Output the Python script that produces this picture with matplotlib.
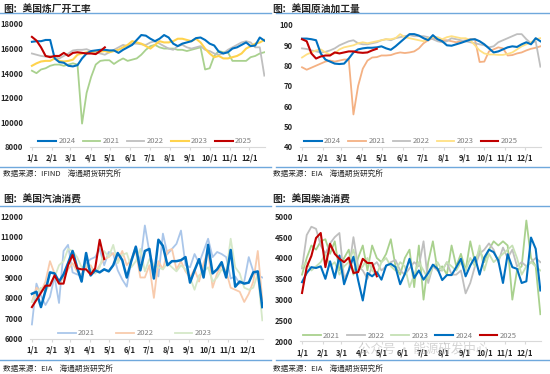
import matplotlib
matplotlib.use('Agg')
import matplotlib.pyplot as plt
import numpy as np

plt.rcParams['font.family'] = ['Noto Sans CJK SC', 'DejaVu Sans']

# ---------------- datos (semanales) ----------------
meses_dias = [0, 31, 59, 90, 120, 151, 181, 212, 243, 273, 304, 334]
meses_etq = ['1/1', '2/1', '3/1', '4/1', '5/1', '6/1', '7/1', '8/1', '9/1', '10/1', '11/1', '12/1']

# 美国炼厂开工率
ref_2024 = [16550, 16600, 16600, 16700, 16700, 15200, 14900, 14850, 14600, 14550,
            14650, 15200, 15600, 15800, 15850, 15900, 15900, 15850, 15850, 15650,
            15900, 16100, 16300, 16700, 17100, 17050, 16800, 16600, 16800, 17100,
            16900, 16400, 16200, 16400, 16500, 16600, 16850, 16900, 16700, 16400,
            16250, 15750, 15600, 15700, 16000, 16100, 16300, 16500, 16200, 16250,
            16900, 16650]
ref_2021 = [14200, 14000, 14300, 14400, 14600, 14700, 14700, 14600, 14700, 14800,
            14700, 9900, 12400, 13700, 14700, 15000, 15050, 15050, 14750, 15000,
            15200, 15000, 15100, 15200, 15500, 15900, 16200, 16300, 16100, 16000,
            16000, 16000, 15900, 15900, 15800, 15900, 16000, 16100, 14300, 14400,
            15400, 15800, 15700, 15700, 15000, 15000, 15000, 15000, 15300, 15400,
            15600, 15700]
ref_2022 = [15600, 15500, 15400, 15350, 15400, 15300, 15200, 15400, 15600, 15850,
            15900, 15900, 15950, 15800, 15700, 15600, 15500, 15700, 15900, 16100,
            16300, 16200, 16400, 16400, 16350, 16300, 16500, 16600, 16400, 16200,
            16000, 15900, 16200, 16300, 16100, 16000, 16100, 16200, 15900, 15800,
            15600, 15500, 15600, 15900, 16100, 16300, 16500, 16600, 16500, 16100,
            16100, 13800]
ref_2023 = [14600, 14800, 14950, 15000, 15000, 15200, 15000, 14950, 15000, 15100,
            15500, 15600, 15700, 15700, 15800, 15750, 15800, 15700, 15800, 15900,
            16100, 16300, 16600, 16500, 16400, 16200, 16000, 16300, 16600, 16500,
            16500, 16600, 16800, 16800, 16700, 16600, 16800, 16500, 16000, 15600,
            15300, 15400, 15200, 15200, 15300, 15400, 15600, 16000, 16200, 16400,
            16500, 16700]
ref_2025 = [16950, 16650, 16100, 15400, 15300, 15400, 15400, 15650, 15400, 15650,
            15700, 15650, 15600, 15600, 15550, 15800, 16100]

# 美国原油加工量
cru_2024 = [93.3, 93.3, 93.0, 92.5, 86.0, 83.0, 82.0, 81.0, 80.8, 81.0,
            83.5, 86.5, 88.0, 88.5, 88.8, 88.8, 89.0, 89.5, 88.5, 87.8,
            89.5, 91.5, 93.5, 95.5, 95.5, 94.8, 93.5, 92.5, 95.0, 93.0,
            92.0, 90.0, 89.8, 90.5, 91.2, 92.0, 92.8, 93.0, 92.0, 90.5,
            88.5, 86.5, 87.0, 88.0, 89.0, 89.5, 89.2, 90.5, 91.5, 90.5,
            93.5, 92.0]
cru_2021 = [79.2, 78.0, 79.0, 80.0, 81.0, 82.0, 82.5, 82.0, 82.5, 83.0,
            83.0, 56.0, 70.0, 78.5, 82.5, 84.0, 84.2, 85.0, 85.0, 85.2,
            86.0, 86.5, 86.2, 86.5, 87.0, 88.5, 91.0, 92.5, 93.5, 93.0,
            92.5, 92.5, 92.0, 91.5, 92.0, 92.5, 93.0, 93.0, 81.8, 82.0,
            87.0, 88.0, 89.0, 88.5, 85.0, 85.2, 86.0, 86.5, 87.5, 88.3,
            88.8, 89.5]
cru_2022 = [88.5, 88.2, 87.5, 87.0, 86.5, 86.8, 87.5, 88.5, 90.0, 91.0,
            92.0, 92.5, 91.0, 90.5, 90.5, 91.0, 91.5, 92.5, 93.0, 92.5,
            93.5, 94.0, 94.5, 95.0, 94.5, 94.5, 94.5, 94.0, 93.0, 92.0,
            91.5, 92.0, 93.5, 93.0, 92.5, 92.0, 91.5, 91.0, 90.5, 90.0,
            89.0, 89.5, 91.5, 92.5, 93.5, 94.5, 95.5, 95.5, 93.0, 91.0,
            92.0, 79.5]
cru_2023 = [84.0, 85.5, 86.5, 87.5, 88.0, 86.5, 85.5, 86.0, 88.0, 89.0,
            89.5, 90.0, 91.0, 91.5, 91.0, 91.5, 92.0, 92.5, 93.0, 93.0,
            93.5, 95.5, 94.0, 93.5, 93.0, 92.5, 92.0, 93.5, 94.0, 94.0,
            93.0, 94.0, 94.5, 94.0, 93.5, 93.5, 92.5, 90.0, 87.5, 86.0,
            85.5, 85.5, 85.3, 85.3, 85.8, 86.5, 88.0, 89.5, 90.5, 91.5,
            93.0, 93.5]
cru_2025 = [93.0, 92.0, 86.0, 83.5, 84.5, 85.0, 85.0, 86.5, 86.0, 86.5,
            87.0, 87.0, 86.5, 86.3, 86.5, 87.5, 88.3]

# 美国汽油消费
gas_2021 = [6700, 8700, 8100, 7650, 8050, 9050, 7750, 10300, 10600, 9250,
            9150, 9100, 9700, 9900, 10000, 10400, 9600, 10250, 10150, 9350,
            8900, 8550, 9850, 10550, 9750, 11550, 10250, 9500, 9050, 11150,
            10150, 10400, 10650, 11300, 9600, 9500, 10150, 9700, 10300, 10900,
            10000, 10250, 10150, 10000, 8950, 9050, 8700, 8800, 10000, 9300,
            9100, 9000]
gas_2022 = [7800, 8500, 8300, 8800, 9800, 9200, 8700, 9000, 9400, 9700,
            9300, 9100, 9500, 9600, 9200, 9600, 9900, 10000, 10200, 9800,
            10300, 9600, 9900, 10300, 9000, 9000, 9600, 8000, 9800, 9400,
            10300, 10400, 9400, 9800, 9300, 9000, 9400, 8800, 9700, 10300,
            8500, 9200, 9600, 9300, 8500, 8400, 8300, 7800, 8200, 8800,
            10300, 7900]
gas_2023 = [7800, 8200, 8500, 8300, 8700, 9000, 9600, 9800, 10400, 10300,
            10000, 9500, 9600, 9400, 9200, 9500, 10300, 10000, 10600, 9700,
            10100, 10200, 9500, 9800, 10400, 9300, 9900, 9600, 9500, 9400,
            9700, 9500, 9300, 9600, 9400, 9000, 8400, 9100, 9300, 9500,
            8800, 9000, 9400, 9200, 10900, 9500, 9200, 8500, 8400, 8500,
            9200, 6900]
gas_2024 = [8200, 8300, 7550, 8350, 9250, 9200, 8800, 9150, 9700, 10300,
            9500, 8800, 10200, 9100, 9350, 9250, 9400, 9300, 9600, 10200,
            9850, 9000, 9800, 10500, 9350, 10300, 10400, 8950, 10850, 10550,
            9600, 9800, 9800, 9850, 10000, 8750, 9350, 9900, 9000, 10600,
            9200, 9400, 9750, 9000, 10350, 8550, 8800, 8700, 8750, 9250,
            9300, 7550]
gas_2025 = [7550, 7900, 8250, 8600, 8600, 9100, 8700, 8700, 9600, 10100,
            9450, 9400, 9400, 9150, 9450, 10850, 9900]

# 美国柴油消费
die_2021 = [3600, 4000, 4300, 4200, 4400, 4450, 4100, 4400, 3700, 4000,
            4200, 3600, 4000, 4300, 3700, 4300, 4000, 3900, 4100, 4450,
            3800, 3600, 4000, 4200, 3300, 4300, 3000, 3900, 4400, 3700,
            3800, 3600, 4300, 3800, 4100, 3700, 4400, 3900, 4200, 3900,
            4200, 4400, 4300, 4400, 4300, 3000, 3700, 3800, 4900, 4000,
            3800, 2650]
die_2022 = [3750, 4550, 4750, 4700, 4300, 4100, 4350, 4500, 4600, 3500,
            3700, 4500, 3800, 3700, 3500, 3800, 3900, 3700, 3800, 3900,
            3950, 3700, 3600, 3750, 3900, 3800, 4400, 3400, 3800, 3700,
            3700, 3900, 3600, 3600, 3700, 3150, 3400, 3800, 4100, 4200,
            4350, 4200, 3900, 4250, 4000, 4200, 3800, 3900, 3800, 3900,
            4000, 3900]
die_2023 = [3800, 3900, 3700, 3800, 3900, 4100, 3800, 3900, 3600, 3800,
            3900, 4200, 3700, 3800, 4000, 3700, 3600, 3900, 4000, 3800,
            3700, 3900, 3800, 3300, 3600, 3900, 3700, 3500, 3800, 3900,
            3700, 3900, 3800, 3700, 3900, 3700, 4000, 3800, 4300, 3700,
            4100, 3900, 4000, 4100, 4200, 4300, 4000, 3600, 3800, 3900,
            3800, 3700]
die_2024 = [3420, 3640, 3780, 3760, 3800, 3500, 3920, 3520, 4060, 3370,
            3700, 4030, 3470, 2980, 3640, 3560, 3660, 3480, 3820, 3860,
            3780, 3370, 3620, 3980, 3520, 3700, 3480, 3640, 3840, 3740,
            3470, 3590, 3590, 3780, 3980, 3560, 3820, 4020, 3600, 4010,
            4200, 4140, 3940, 3400, 4090, 3780, 3740, 3400, 3440, 4490,
            4220, 3220]
die_2025 = [3160, 3780, 4050, 4480, 4600, 3780, 4340, 4100, 3980, 3900,
            4010, 3640, 3660, 3980, 3880, 3880, 3560]

AZUL = '#0070C0'
ROJO = '#C00000'
LINEA = '#6FA8DC'


def semanas(vals):
    return np.arange(len(vals)) * 7


def preparar_ejes(ax, ylim, yticks):
    ax.set_xlim(-3, 358)
    ax.set_ylim(*ylim)
    ax.set_yticks(yticks)
    ax.set_xticks(meses_dias)
    ax.set_xticklabels(meses_etq)
    for s in ['top', 'right', 'left']:
        ax.spines[s].set_visible(False)
    ax.spines['bottom'].set_color('#D9D9D9')
    ax.spines['bottom'].set_linewidth(0.8)
    ax.tick_params(axis='y', length=0, pad=5, labelsize=5.5, labelcolor='#262626')
    ax.tick_params(axis='x', length=2, color='#D9D9D9', pad=3, labelsize=5.5, labelcolor='#262626')
    for lab in ax.get_xticklabels() + ax.get_yticklabels():
        lab.set_fontweight('bold')


def leyenda(ax, lineas, x, espacio):
    leg = ax.legend(handles=lineas, loc='center', bbox_to_anchor=(x, 0.045), ncol=len(lineas),
                    frameon=False, fontsize=5.5, handlelength=2.3, handletextpad=0.3,
                    columnspacing=espacio, borderaxespad=0)
    for t in leg.get_texts():
        t.set_color('#7F7F7F')


fig = plt.figure(figsize=(5.5, 3.74), dpi=100)

# ------------ 美国炼厂开工率 ------------
ax1 = fig.add_axes([0.0545, 0.607, 0.4273, 0.3289])
l21, = ax1.plot(semanas(ref_2021), ref_2021, color='#A9D18E', lw=1.3, label='2021')
l22, = ax1.plot(semanas(ref_2022), ref_2022, color='#BFBFBF', lw=1.3, label='2022')
l23, = ax1.plot(semanas(ref_2023), ref_2023, color='#FFD34D', lw=1.5, label='2023')
l24, = ax1.plot(semanas(ref_2024), ref_2024, color=AZUL, lw=1.5, label='2024')
l25, = ax1.plot(semanas(ref_2025), ref_2025, color=ROJO, lw=1.5, label='2025')
preparar_ejes(ax1, (8000, 18000), np.arange(8000, 18001, 2000))
leyenda(ax1, [l24, l21, l22, l23, l25], 0.49, 0.95)

# ------------ 美国原油加工量 ------------
ax2 = fig.add_axes([0.5455, 0.607, 0.4382, 0.3262])
l21, = ax2.plot(semanas(cru_2021), cru_2021, color='#F4B183', lw=1.3, label='2021')
l22, = ax2.plot(semanas(cru_2022), cru_2022, color='#BFBFBF', lw=1.3, label='2022')
l23, = ax2.plot(semanas(cru_2023), cru_2023, color='#FFE083', lw=1.3, label='2023')
l24, = ax2.plot(semanas(cru_2024), cru_2024, color=AZUL, lw=1.5, label='2024')
l25, = ax2.plot(semanas(cru_2025), cru_2025, color=ROJO, lw=1.5, label='2025')
preparar_ejes(ax2, (40, 100), np.arange(40, 101, 10))
leyenda(ax2, [l24, l21, l22, l23, l25], 0.46, 0.95)

# ------------ 美国汽油消费 ------------
ax3 = fig.add_axes([0.0545, 0.0944, 0.4236, 0.3273])
l21, = ax3.plot(semanas(gas_2021), gas_2021, color='#8EB4E3', lw=1.3, alpha=0.75, label='2021')
l22, = ax3.plot(semanas(gas_2022), gas_2022, color='#F8CBAD', lw=1.3, label='2022')
l23, = ax3.plot(semanas(gas_2023), gas_2023, color='#D5E8C8', lw=1.3, label='2023')
ax3.plot(semanas(gas_2024), gas_2024, color=AZUL, lw=1.8)
ax3.plot(semanas(gas_2025), gas_2025, color=ROJO, lw=1.5)
preparar_ejes(ax3, (6000, 12000), np.arange(6000, 12001, 1000))
leyenda(ax3, [l21, l22, l23], 0.45, 2.8)

# ------------ 美国柴油消费 ------------
ax4 = fig.add_axes([0.5455, 0.0874, 0.4382, 0.3342])
l21, = ax4.plot(semanas(die_2021), die_2021, color='#A9D18E', lw=1.3, label='2021')
l22, = ax4.plot(semanas(die_2022), die_2022, color='#BFBFBF', lw=1.3, label='2022')
l23, = ax4.plot(semanas(die_2023), die_2023, color='#C5E0B4', lw=1.3, label='2023')
l24, = ax4.plot(semanas(die_2024), die_2024, color=AZUL, lw=1.5, label='2024')
l25, = ax4.plot(semanas(die_2025), die_2025, color=ROJO, lw=1.5, label='2025')
preparar_ejes(ax4, (2000, 5000), np.arange(2000, 5001, 500))
leyenda(ax4, [l21, l22, l23, l24, l25], 0.456, 0.95)

# marca de agua (debajo de la leyenda)
fig.text(0.65, 0.068, '公众号 · 能源研发中心', fontsize=9, color='#A0A0A0', alpha=0.45,
         ha='left', va='center')

# ------------ títulos, líneas y fuentes ------------
titulos = [(0.005, 0.976, '图：美国炼厂开工率'), (0.495, 0.976, '图：美国原油加工量'),
           (0.005, 0.465, '图：美国汽油消费'), (0.495, 0.465, '图：美国柴油消费')]
for x, y, t in titulos:
    fig.text(x, y, t, fontsize=7, fontweight='bold', color='#262626', ha='left', va='center')

fuentes = [(0.005, 0.536, '数据来源：IFIND    海通期货研究所'), (0.497, 0.536, '数据来源：EIA    海通期货研究所'),
           (0.005, 0.0147, '数据来源：EIA    海通期货研究所'), (0.497, 0.0147, '数据来源：EIA    海通期货研究所')]
for x, y, t in fuentes:
    fig.text(x, y, t, fontsize=5.5, color='#262626', ha='left', va='center')

for y in [0.9644, 0.5543, 0.4484, 0.0382]:
    fig.add_artist(plt.Line2D([0.0, 0.492], [y, y], color=LINEA, lw=1))
    fig.add_artist(plt.Line2D([0.502, 1.0], [y, y], color=LINEA, lw=1))

fig.savefig('out.png', dpi=100)
